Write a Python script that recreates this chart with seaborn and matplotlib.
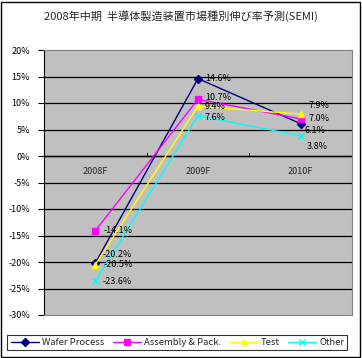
import matplotlib
matplotlib.use("Agg")
import matplotlib.pyplot as plt
import seaborn as sns
import pandas as pd
from matplotlib.patches import Rectangle
from matplotlib.lines import Line2D

years = ["2008F", "2009F", "2010F"]
series = ["Wafer Process", "Assembly & Pack.", "Test", "Other"]
wafer = [-20.2, 14.6, 6.1]
assembly = [-14.1, 10.7, 7.0]
test = [-20.5, 9.4, 7.9]
other = [-23.6, 7.6, 3.8]
yticks = [-30, -25, -20, -15, -10, -5, 0, 5, 10, 15, 20]

colors = {"Wafer Process": "#000080", "Assembly & Pack.": "#FF00FF",
          "Test": "#FFFF00", "Other": "#00FFFF"}
markers = {"Wafer Process": "D", "Assembly & Pack.": "s",
           "Test": "^", "Other": "x"}

rows = []
for name, vals in zip(series, [wafer, assembly, test, other]):
    for yr, v in zip(years, vals):
        rows.append({"year": yr, "series": name, "value": v})
df = pd.DataFrame(rows)

sns.set_theme(style="white")
plt.rcParams['font.family'] = ['Noto Sans CJK JP', 'DejaVu Sans']

fig = plt.figure(figsize=(3.62, 3.58), dpi=100)
ax = fig.add_axes([44 / 362, 43 / 358, 308 / 362, 265 / 358])
ax.set_facecolor("#C0C0C0")

for name in series:
    sub = df[df["series"] == name]
    sns.lineplot(data=sub, x="year", y="value", color=colors[name],
                 marker=markers[name], markersize=4.5, markeredgewidth=1,
                 markeredgecolor=colors[name], linewidth=1, sort=False, ax=ax)

ax.set_xlim(-0.5, 2.5)
ax.set_ylim(-30, 20)
ax.set_yticks(yticks)
ax.set_yticklabels([f"{t}%" for t in yticks], fontsize=6.5)
ax.set_xticks([])
ax.set_xlabel("")
ax.set_ylabel("")
for t in yticks[1:-1]:
    ax.axhline(t, color="black", linewidth=0.9, zorder=0.5)
ax.axhline(0, color="black", linewidth=1, zorder=0.5)
for xb in [0.5, 1.5]:
    ax.plot([xb, xb], [0, 0.6], color="black", linewidth=0.8)
for i, yr in enumerate(years):
    ax.text(i, -3.0, yr, ha="center", va="center", fontsize=6.5)

ax.tick_params(axis="y", which="both", left=True, length=4, width=0.8,
               color="black", pad=6, labelcolor="black")
for s in ax.spines.values():
    s.set_color("#808080")
    s.set_linewidth(0.8)
ax.spines["left"].set_color("black")

# data labels (offsets in points)
label_offsets = {
    "Wafer Process": [(5, 6), (5, 0), (3, -5)],
    "Assembly & Pack.": [(6, 0), (5, 1.5), (6, 0)],
    "Test": [(6, 0), (5, 0), (6, 6.5)],
    "Other": [(5, 0), (5, -1), (4, -7.5)],
}
for name, vals in zip(series, [wafer, assembly, test, other]):
    for i, v in enumerate(vals):
        dx, dy = label_offsets[name][i]
        ax.annotate(f"{v:.1f}%", (i, v), xytext=(dx, dy),
                    textcoords="offset points", ha="left", va="center",
                    fontsize=6.5, color="black")

# legend
handles = [Line2D([], [], color=colors[n], marker=markers[n], markersize=4,
                  markeredgecolor=colors[n], linewidth=1) for n in series]
leg = fig.legend(handles, series, loc="lower center", ncol=4,
                 bbox_to_anchor=(0.49, 0.008), fontsize=6.8, frameon=True,
                 fancybox=False, edgecolor="black", handlelength=3.0,
                 columnspacing=0.9, handletextpad=0.3, borderpad=0.35)
leg.get_frame().set_linewidth(0.8)

fig.text(0.5, 1 - 16 / 358, "2008年中期  半導体製造装置市場種別伸び率予測(SEMI)",
         ha="center", va="center", fontsize=8)

fig.patches.append(Rectangle((0.002, 0.002), 0.993, 0.993, transform=fig.transFigure,
                             fill=False, edgecolor="black", linewidth=1))

fig.savefig("out.png", dpi=100, facecolor="white")
